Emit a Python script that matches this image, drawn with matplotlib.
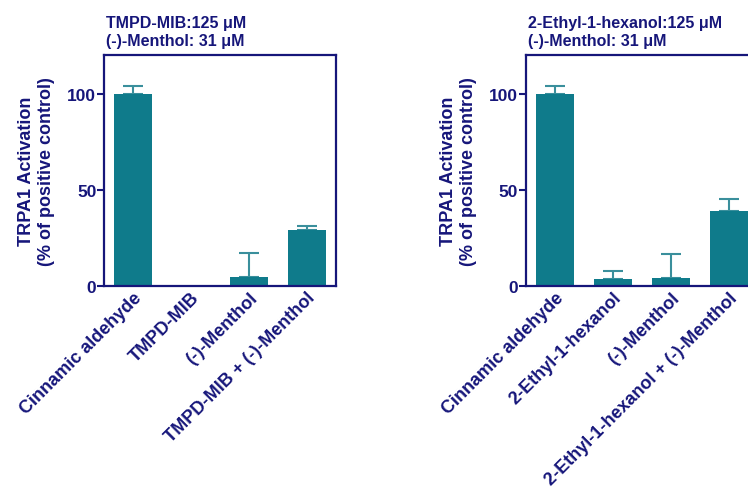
import matplotlib

matplotlib.use("Agg")

import matplotlib.pyplot as plt
import numpy as np

NAVY = "#16167a"
TEAL = "#0f7b8b"
ERR_TEAL = "#3a8f9c"

plt.rcParams["font.family"] = ["Liberation Sans", "DejaVu Sans"]
plt.rcParams["font.weight"] = "bold"

# TMPD-MIB panel
mib_labels = ["Cinnamic aldehyde", "TMPD-MIB", "(-)-Menthol", "TMPD-MIB + (-)-Menthol"]
mib_means = [100.0, 0.0, 4.5, 29.2]
mib_sem = [4.0, 0.0, 12.5, 1.8]
mib_title = "TMPD-MIB:125 \u03bcM\n(-)-Menthol: 31 \u03bcM"

# 2-ethyl-1-hexanol panel
hex_labels = ["Cinnamic aldehyde", "2-Ethyl-1-hexanol", "(-)-Menthol",
              "2-Ethyl-1-hexanol + (-)-Menthol"]
hex_means = [100.0, 3.5, 4.2, 39.0]
hex_sem = [4.0, 4.5, 12.3, 6.3]
hex_title = "2-Ethyl-1-hexanol:125 \u03bcM\n(-)-Menthol: 31 \u03bcM"

y_ticks = [0, 50, 100]
y_label = "TRPA1 Activation\n(% of positive control)"


def draw_panel(axis, labels, means, sem, title):
    x = np.arange(len(labels))
    axis.bar(x, means, width=0.66, color=TEAL, zorder=2)
    # upper error only, like the usual prism-style bars
    shown = [i for i, s in enumerate(sem) if s > 0]
    axis.errorbar(
        x[shown],
        np.array(means)[shown],
        yerr=[np.zeros(len(shown)), np.array(sem)[shown]],
        fmt="none",
        ecolor=ERR_TEAL,
        elinewidth=1.5,
        capsize=7.2,
        capthick=1.5,
        zorder=1,
    )
    axis.set_xlim(-0.5, len(labels) - 0.5)
    axis.set_ylim(0, 120)
    axis.set_yticks(y_ticks)
    axis.set_xticks(x)
    axis.set_xticklabels(labels, rotation=45, ha="right", va="top",
                         rotation_mode="anchor", fontsize=13, color=NAVY,
                         fontweight="bold")
    axis.tick_params(axis="x", length=0, pad=2)
    axis.tick_params(axis="y", length=5, width=1.5, color=NAVY, pad=0.5,
                     labelsize=12.5, labelcolor=NAVY)
    for spine in axis.spines.values():
        spine.set_color(NAVY)
        spine.set_linewidth(1.6)
    axis.set_ylabel(y_label, fontsize=13, color=NAVY, fontweight="bold", labelpad=9)
    axis.text(0.01, 1.03, title, transform=axis.transAxes, ha="left", va="bottom",
              fontsize=11.5, color=NAVY, fontweight="bold", linespacing=1.3)


figure = plt.figure(figsize=(7.48, 4.89), dpi=100)
ax_left = figure.add_axes([0.139, 0.413, 0.310, 0.472])
ax_right = figure.add_axes([0.703, 0.413, 0.310, 0.472])

draw_panel(ax_left, mib_labels, mib_means, mib_sem, mib_title)
draw_panel(ax_right, hex_labels, hex_means, hex_sem, hex_title)

figure.savefig("out.png", dpi=100)
plt.close(figure)
